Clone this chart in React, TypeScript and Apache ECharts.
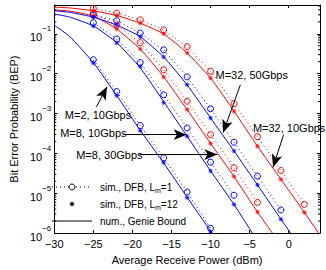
import React, { useEffect, useRef } from 'react';
import * as echarts from 'echarts';

// x positions (dBm) of the simulated markers
const markerX = [-25, -22, -19, -16, -13, -10, -7, -4, -1, 2];

// Curve 1 (blue, M=2, 10Gbps) - values are log10(BEP)
const c1LineX = [-30, -28, -25, -22, -19, -16, -13, -10, -8];
const c1LineLog = [-0.78, -1.07, -1.72, -2.55, -3.42, -4.24, -5.1, -5.95, -6.5];
const c1CircLog = [-1.65, -2.45, -3.3, -4.11, -4.97, -5.88];
const c1StarLog = [-1.73, -2.55, -3.43, -4.23, -5.11, -5.97];

// Curve 2 (blue)
const c2LineX = [-30, -28, -25, -22, -19, -16, -13, -10, -7, -4, -2];
const c2LineLog = [-0.5, -0.58, -0.8, -1.22, -1.85, -2.7, -3.57, -4.44, -5.28, -6.2, -6.75];
const c2CircLog = [-0.72, -1.13, -1.72, -2.53, -3.36, -4.22, -5.05];
const c2StarLog = [-0.8, -1.23, -1.82, -2.73, -3.57, -4.44, -5.28];

// Curve 3 (red)
const c3LineX = [-30, -28, -25, -22, -19, -16, -13, -10, -7, -4, -1];
const c3LineLog = [-0.4, -0.43, -0.55, -0.88, -1.38, -2.08, -2.9, -3.75, -4.58, -5.47, -6.3];
const c3CircLog = [-0.48, -0.78, -1.22, -1.9, -2.69, -3.53, -4.36, -5.23];
const c3StarLog = [-0.55, -0.88, -1.38, -2.08, -2.9, -3.75, -4.58, -5.47];

// Curve 4 (blue)
const c4LineX = [-30, -28, -25, -22, -19, -16, -13, -10, -7, -4, -1, 2];
const c4LineLog = [-0.42, -0.46, -0.58, -0.78, -1.07, -1.58, -2.28, -3.11, -3.94, -4.79, -5.65, -6.5];
const c4CircLog = [-0.53, -0.67, -0.98, -1.4, -2.08, -2.88, -3.72, -4.57, -5.42];
const c4StarLog = [-0.58, -0.78, -1.07, -1.58, -2.28, -3.11, -3.94, -4.79, -5.65];

// Curve 5 (red)
const c5LineX = [-30, -28, -25, -22, -19, -16, -13, -10, -7, -4, -1, 2, 4];
const c5LineLog = [-0.33, -0.35, -0.42, -0.54, -0.73, -1.0, -1.48, -2.11, -2.94, -3.82, -4.65, -5.48, -6.05];
const c5CircLog = [-0.36, -0.48, -0.65, -0.9, -1.32, -1.94, -2.75, -3.58, -4.43, -5.28];
const c5StarLog = [-0.42, -0.54, -0.73, -1.0, -1.48, -2.11, -2.94, -3.82, -4.65, -5.48];

// legend labels: [main text, subscript, tail]
const legendLabels: [string, string, string][] = [
  ['sim., DFB, L', 'm', '=1'],
  ['sim., DFB, L', 'm', '=12'],
  ['num., Genie Bound', '', ''],
];

const BLUE = '#0000ff';
const RED = '#ff0000';
const FONT = '"Liberation Sans", Arial, Helvetica, sans-serif';

// annotation texts: [text, x(dBm), log10 y]
const annoTexts: [string, number, number][] = [
  ['M=2, 10Gbps', -28.65, -3.03],
  ['M=8, 10Gbps', -29.25, -3.5],
  ['M=8, 30Gbps', -27.2, -4.04],
  ['M=32, 50Gbps', -9.38, -2.03],
  ['M=32, 10Gbps', -4.59, -3.35],
];
// arrows: [x1, log y1, x2, log y2]
const annoArrows: [number, number, number, number][] = [
  [-24.6, -2.83, -23.25, -2.33],
  [-21.16, -3.53, -13.06, -3.53],
  [-19.1, -4.03, -9.13, -4.03],
  [-6.19, -2.28, -8.4, -3.48],
  [-0.66, -3.53, -2.01, -4.35],
];

function starPoints(cx: number, cy: number, ro: number, ri: number): number[][] {
  const pts: number[][] = [];
  for (let i = 0; i < 16; i++) {
    const a = (i * Math.PI) / 8 - Math.PI / 2;
    const r = i % 2 === 0 ? ro : ri;
    pts.push([cx + r * Math.cos(a), cy + r * Math.sin(a)]);
  }
  return pts;
}
const STAR = 'path://M' + starPoints(0, 0, 10, 4.5).map((p) => p[0].toFixed(2) + ',' + p[1].toFixed(2)).join('L') + 'Z';

const curves = [
  { color: BLUE, lx: c1LineX, ll: c1LineLog, circ: c1CircLog, star: c1StarLog },
  { color: BLUE, lx: c2LineX, ll: c2LineLog, circ: c2CircLog, star: c2StarLog },
  { color: RED, lx: c3LineX, ll: c3LineLog, circ: c3CircLog, star: c3StarLog },
  { color: BLUE, lx: c4LineX, ll: c4LineLog, circ: c4CircLog, star: c4StarLog },
  { color: RED, lx: c5LineX, ll: c5LineLog, circ: c5CircLog, star: c5StarLog },
];

const minorVals: number[] = [];
for (let e = -6; e < 0; e++) {
  for (let m = 2; m <= 9; m++) {
    const v = m * Math.pow(10, e);
    if (v < 0.53) minorVals.push(v);
  }
}

function buildLegendGraphic(): any[] {
  const x0 = 52;
  const x1 = 92;
  const xm = 72;
  const xt = 100;
  const rows = [187, 204, 221];
  const els: any[] = [];
  // row 1: dotted line with circle
  els.push({ type: 'line', shape: { x1: x0, y1: rows[0], x2: x1, y2: rows[0] }, style: { stroke: '#000', lineWidth: 1, lineDash: [1, 3] } });
  els.push({ type: 'circle', shape: { cx: xm, cy: rows[0], r: 3 }, style: { fill: '#fff', stroke: '#000', lineWidth: 1 } });
  // row 2: star
  els.push({ type: 'polygon', shape: { points: starPoints(xm, rows[1], 3, 1.35) }, style: { fill: '#000' } });
  // row 3: solid line
  els.push({ type: 'line', shape: { x1: x0, y1: rows[2], x2: x1, y2: rows[2] }, style: { stroke: '#000', lineWidth: 1 } });
  legendLabels.forEach((l, i) => {
    const txt = l[1] ? `{t|${l[0]}}{sub|${l[1]}}{t|${l[2]}}` : `{t|${l[0]}}`;
    els.push({
      type: 'text',
      x: xt,
      y: rows[i],
      style: {
        text: txt,
        verticalAlign: 'middle',
        align: 'left',
        rich: {
          t: { fontSize: 10, fontFamily: FONT, fill: '#000', lineHeight: 14, verticalAlign: 'middle' },
          sub: { fontSize: 7, fontFamily: FONT, fill: '#000', lineHeight: 14, verticalAlign: 'bottom', padding: [6, 0, 0, 0] },
        },
      },
    });
  });
  return els;
}

function buildOption(): any {
  const series: any[] = [];
  curves.forEach((c) => {
    series.push({
      type: 'line',
      data: c.lx.map((x, i) => [x, Math.pow(10, c.ll[i])]),
      symbol: 'none',
      smooth: 0.15,
      lineStyle: { color: c.color, width: 1 },
      z: 3,
    });
    series.push({
      type: 'line',
      data: c.circ.map((v, i) => [markerX[i], Math.pow(10, v)]),
      symbol: 'circle',
      symbolSize: 6,
      smooth: false,
      itemStyle: { color: 'rgba(0,0,0,0)', borderColor: c.color, borderWidth: 1 },
      lineStyle: { color: c.color, width: 1, type: [1, 3] },
      z: 4,
    });
    series.push({
      type: 'scatter',
      data: c.star.map((v, i) => [markerX[i], Math.pow(10, v)]),
      symbol: STAR,
      symbolSize: 6,
      itemStyle: { color: c.color },
      z: 5,
    });
  });

  // minor ticks of the log axes (left and right)
  series.push({
    type: 'custom',
    silent: true,
    clip: false,
    z: 10,
    data: minorVals.map((v) => [-30, v]),
    renderItem: (_p: any, api: any) => {
      const y = api.value(1);
      const l = api.coord([-30, y]);
      const r = api.coord([4, y]);
      return {
        type: 'group',
        children: [
          { type: 'line', shape: { x1: l[0], y1: l[1], x2: l[0] + 2, y2: l[1] }, style: { stroke: '#000', lineWidth: 1 } },
          { type: 'line', shape: { x1: r[0] - 2, y1: r[1], x2: r[0], y2: r[1] }, style: { stroke: '#000', lineWidth: 1 } },
        ],
      };
    },
  });

  // annotations
  series.push({
    type: 'line',
    data: [],
    z: 20,
    markLine: {
      silent: true,
      symbol: ['none', 'arrow'],
      symbolSize: [8, 13],
      lineStyle: { color: '#000', width: 1, type: 'solid' },
      label: { show: false },
      emphasis: { disabled: true },
      data: annoArrows.map((a) => [
        { coord: [a[0], Math.pow(10, a[1])] },
        { coord: [a[2], Math.pow(10, a[3])] },
      ]),
    },
    markPoint: {
      silent: true,
      symbol: 'circle',
      symbolSize: 0.1,
      itemStyle: { color: 'rgba(0,0,0,0)' },
      label: {
        show: true,
        position: 'right',
        distance: 0,
        color: '#000',
        fontSize: 11,
        fontFamily: FONT,
        formatter: (p: any) => p.name,
      },
      data: annoTexts.map((t) => ({ name: t[0], coord: [t[1], Math.pow(10, t[2])] })),
    },
  });

  const axisCommon = {
    axisLine: { show: true, onZero: false, lineStyle: { color: '#000', width: 1 } },
    axisTick: { show: true, inside: true, length: 3, lineStyle: { color: '#000', width: 1 } },
    splitLine: { show: false },
  };

  return {
    animation: false,
    backgroundColor: '#fff',
    grid: { left: 42, right: 6, top: 5, bottom: 36 },
    graphic: buildLegendGraphic(),
    xAxis: [
      {
        type: 'value',
        min: -30,
        max: 4,
        interval: 5,
        position: 'bottom',
        ...axisCommon,
        axisLabel: {
          color: '#000',
          fontSize: 11,
          fontFamily: FONT,
          margin: 5,
          showMaxLabel: false,
          formatter: (v: number) => String(v).replace('-', '\u2212'),
        },
        name: 'Average Receive Power (dBm)',
        nameLocation: 'middle',
        nameGap: 20,
        nameTextStyle: { color: '#000', fontSize: 11, fontFamily: FONT },
      },
      {
        type: 'value',
        min: -30,
        max: 4,
        interval: 5,
        position: 'top',
        ...axisCommon,
        axisLabel: { show: false },
      },
    ],
    yAxis: [
      {
        type: 'log',
        logBase: 10,
        min: 1e-6,
        max: 0.53,
        position: 'left',
        ...axisCommon,
        axisLabel: {
          color: '#000',
          fontSize: 11,
          fontFamily: FONT,
          margin: 3,
          showMaxLabel: false,
          formatter: (v: number) => {
            const e = Math.log10(v);
            const r = Math.round(e);
            if (Math.abs(e - r) > 1e-6) return '';
            return `{b|10}{s|\u2212${-r}}`;
          },
          rich: {
            b: { fontSize: 11, fontFamily: FONT, color: '#000', lineHeight: 18, verticalAlign: 'bottom' },
            s: { fontSize: 8, fontFamily: FONT, color: '#000', lineHeight: 8, verticalAlign: 'top' },
          },
        },
        name: 'Bit Error Probability (BEP)',
        nameLocation: 'middle',
        nameGap: 27,
        nameTextStyle: { color: '#000', fontSize: 11, fontFamily: FONT },
      },
      {
        type: 'log',
        logBase: 10,
        min: 1e-6,
        max: 0.53,
        position: 'right',
        ...axisCommon,
        axisLabel: { show: false },
      },
    ],
    series,
  };
}

export default function App() {
  const ref = useRef<HTMLDivElement>(null);
  useEffect(() => {
    if (!ref.current) return;
    const chart = echarts.init(ref.current, null, { renderer: 'svg' });
    chart.setOption(buildOption());
    return () => chart.dispose();
  }, []);
  return (
    <div
      ref={ref}
      style={{ position: 'fixed', left: 0, top: 0, width: 326, height: 270, background: '#fff' }}
    />
  );
}
